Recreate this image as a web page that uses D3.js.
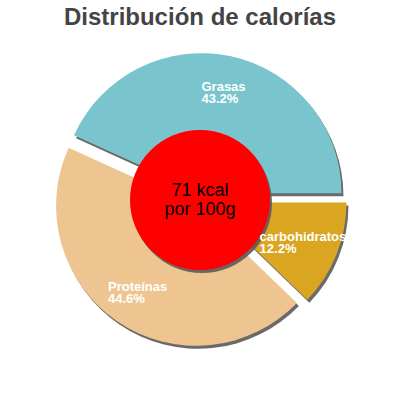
<!DOCTYPE html>
<html>
<head>
<meta charset="utf-8">
<script src="https://cdn.jsdelivr.net/npm/d3@7"></script>
<style>
  html, body { margin: 0; padding: 0; background: #fff; }
  svg { display: block; font-family: "Liberation Sans", Arial, sans-serif; }
</style>
</head>
<body>
<div id="chart"></div>
<script>
// Chart data
const categories = ['Grasas', 'Proteínas', 'carbohidratos'];
const percents = [43.2, 44.6, 12.2];
const sliceColors = ['#7AC5CD', '#EEC591', '#DAA520'];
const titleText = 'Distribución de calorías';
const centerLines = ['71 kcal', 'por 100g'];

const width = 400, height = 400;
const cx = 200, cy = 200;
const radius = 140;
const innerRadius = 70;
const explode = 7;
const labelRadius = 104;

const svg = d3.select('#chart')
    .append('svg')
    .attr('width', width)
    .attr('height', height);

// Title
svg.append('text')
    .attr('x', width / 2)
    .attr('y', 25)
    .attr('text-anchor', 'middle')
    .attr('font-size', 24)
    .attr('font-weight', 'bold')
    .attr('fill', '#444')
    .text(titleText);

// Pie goes counterclockwise starting at 3 o'clock
const pie = d3.pie()
    .sort(null)
    .startAngle(Math.PI / 2)
    .endAngle(Math.PI / 2 - 2 * Math.PI);

const arc = d3.arc().innerRadius(0).outerRadius(radius);
const arcs = pie(percents);

const offsetOf = (d, r) => {
    const a = (d.startAngle + d.endAngle) / 2;
    return [Math.sin(a) * r, -Math.cos(a) * r];
};

const slices = svg.append('g')
    .attr('transform', `translate(${cx},${cy})`)
    .selectAll('g')
    .data(arcs)
    .enter()
    .append('g')
    .attr('transform', d => {
        const [dx, dy] = offsetOf(d, explode);
        return `translate(${dx},${dy})`;
    });

// Shadow then slice
slices.append('path')
    .attr('d', arc)
    .attr('transform', 'translate(2,3)')
    .attr('fill', '#5a5a5a')
    .attr('opacity', 0.9);

slices.append('path')
    .attr('d', arc)
    .attr('fill', (d, i) => sliceColors[i]);

// Center disc
const center = svg.append('g').attr('transform', `translate(${cx},${cy})`);
center.append('circle')
    .attr('cx', 2).attr('cy', 3)
    .attr('r', innerRadius)
    .attr('fill', '#5a5a5a')
    .attr('opacity', 0.9);
center.append('circle')
    .attr('r', innerRadius)
    .attr('fill', '#ff0000');
center.selectAll('text.center')
    .data(centerLines)
    .enter()
    .append('text')
    .attr('class', 'center')
    .attr('text-anchor', 'middle')
    .attr('y', (d, i) => -4 + i * 19)
    .attr('font-size', 18)
    .attr('fill', '#000')
    .text(d => d);

// Slice labels, left-aligned block centred on the slice
const labels = svg.append('g').attr('transform', `translate(${cx},${cy})`);
arcs.forEach((d, i) => {
    const [ex, ey] = offsetOf(d, explode);
    const [lx, ly] = offsetOf(d, labelRadius);
    const t = labels.append('text')
        .attr('font-size', 13)
        .attr('font-weight', 'bold')
        .attr('fill', '#fff');
    const lines = [categories[i], d3.format('.1f')(percents[i]) + '%'];
    const spans = lines.map((s, k) => t.append('tspan')
        .attr('dy', 0)
        .attr('y', ey + ly - 1 + k * 12)
        .text(s));
    const w = d3.max(spans, s => s.node().getComputedTextLength());
    spans.forEach(s => s.attr('x', ex + lx - w / 2));
});
</script>
</body>
</html>
